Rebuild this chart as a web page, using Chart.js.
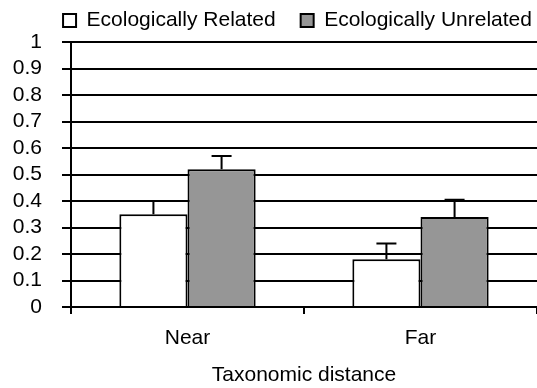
<!DOCTYPE html>
<html>
<head>
<meta charset="utf-8">
<script src="https://cdn.jsdelivr.net/npm/chart.js@4/dist/chart.umd.min.js"></script>
<style>
  html,body{margin:0;padding:0;background:#fff;}
  #wrap{width:537px;height:388px;position:relative;}
</style>
</head>
<body>
<div id="wrap"><canvas id="barChart"></canvas></div>
<script>
const categories = ["Near", "Far"];
const relatedValues = [0.35, 0.18];
const relatedErrors = [0.05, 0.06];
const unrelatedValues = [0.52, 0.34];
const unrelatedErrors = [0.05, 0.065];
const yTicks = [0, 0.1, 0.2, 0.3, 0.4, 0.5, 0.6, 0.7, 0.8, 0.9, 1];

const FONT = "'Liberation Sans', Arial, sans-serif";
const errs = [relatedErrors, unrelatedErrors];

// upward-only error bars with a cap
const errorBars = {
  id: "errorBars",
  afterDatasetsDraw(chart){
    const c = chart.ctx;
    const y = chart.scales.y;
    c.save();
    c.strokeStyle = "#000";
    c.lineWidth = 2;
    chart.data.datasets.forEach((ds, di) => {
      chart.getDatasetMeta(di).data.forEach((bar, i) => {
        const top = y.getPixelForValue(ds.data[i] + errs[di][i]);
        c.beginPath();
        c.moveTo(bar.x, bar.y);
        c.lineTo(bar.x, top);
        c.moveTo(bar.x - 10, top);
        c.lineTo(bar.x + 10, top);
        c.stroke();
      });
    });
    c.restore();
  }
};

// keep the legend short and move it where the original has it
const legendFix = {
  id: "legendFix",
  afterInit(chart){
    const lg = chart.legend;
    const fit = lg.fit;
    lg.fit = function(){ fit.call(this); this.height = 38; };
  },
  afterLayout(chart){
    const lg = chart.legend;
    lg.left += 23; lg.right += 23;
    lg.top -= 19;
  }
};

new Chart(document.getElementById("barChart"), {
  type: "bar",
  data: {
    labels: categories,
    datasets: [
      {
        label: "Ecologically Related",
        data: relatedValues,
        backgroundColor: "#ffffff",
        borderColor: "#000",
        borderWidth: 2
      },
      {
        label: "Ecologically Unrelated",
        data: unrelatedValues,
        backgroundColor: "#969696",
        borderColor: "#000",
        borderWidth: 2
      }
    ]
  },
  options: {
    responsive: true,
    maintainAspectRatio: false,
    animation: false,
    datasets: { bar: { categoryPercentage: 0.585, barPercentage: 1 } },
    layout: { padding: { left: 12, right: 0, top: 4, bottom: 0 } },
    plugins: {
      tooltip: { enabled: false },
      legend: {
        position: "top",
        labels: {
          color: "#000",
          font: { family: FONT, size: 21 },
          boxWidth: 13,
          boxHeight: 13,
          padding: 25
        }
      }
    },
    scales: {
      x: {
        offset: true,
        afterFit(scale){ scale.height = 81; },
        grid: {
          offset: true,
          drawOnChartArea: false,
          color: "#000",
          lineWidth: 2,
          tickLength: 7
        },
        border: { color: "#000", width: 2 },
        ticks: { color: "#000", font: { family: FONT, size: 21 }, padding: 12 },
        title: {
          display: true,
          text: "Taxonomic distance",
          color: "#000",
          font: { family: FONT, size: 21 },
          padding: { top: 0, bottom: 0 }
        }
      },
      y: {
        min: 0,
        max: 1,
        afterFit(scale){ scale.width = 59; },
        afterBuildTicks(axis){ axis.ticks = yTicks.map(v => ({ value: v })); },
        grid: { color: "#000", lineWidth: 2, tickLength: 9 },
        border: { color: "#000", width: 2 },
        ticks: {
          color: "#000",
          font: { family: FONT, size: 21 },
          padding: 20,
          autoSkip: false,
          callback: v => String(Math.round(v * 10) / 10)
        }
      }
    }
  },
  plugins: [errorBars, legendFix]
});
</script>
</body>
</html>
